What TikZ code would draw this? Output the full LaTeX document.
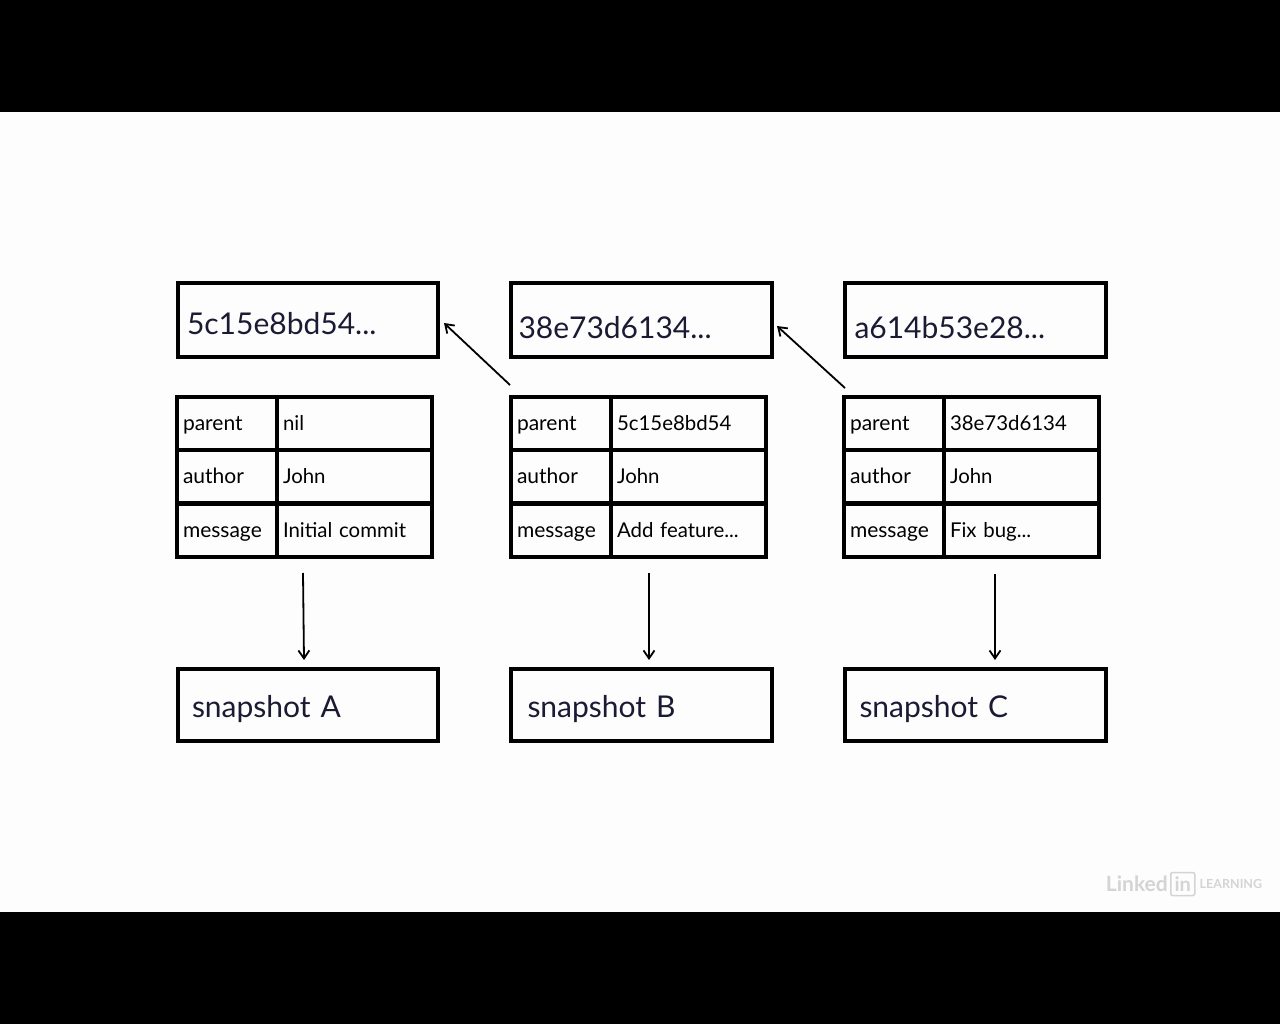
\documentclass[tikz,border=0pt]{standalone}
\usepackage{fontspec}
\setmainfont{Lato}
\usetikzlibrary{arrows.meta,positioning}
\definecolor{inkblue}{HTML}{1A1A33}
\definecolor{logogray}{HTML}{D4D4D4}
\definecolor{paper}{HTML}{FDFDFD}
\tikzset{
  bigbox/.style={draw=black,line width=4pt,anchor=north west,minimum width=260pt,minimum height=74pt,text width=#1,align=left,text=inkblue,font=\fontsize{30}{30}\selectfont,text height=31pt,text depth=2pt,inner ysep=0pt},
  snapbox/.style={bigbox=#1,minimum height=72pt,text height=26pt},
  keycell/.style={draw=black,line width=4pt,anchor=north west,minimum width=100pt,minimum height=53.2pt,inner xsep=6pt,inner ysep=0pt,text width=88pt,align=left,text=black,font=\fontsize{21}{21}\selectfont,text height=17pt,text depth=3pt},
  valcell/.style={keycell,minimum width=155pt,text width=143pt,font=\fontsize{20.4}{21}\selectfont},
  link/.style={->,line width=1.8pt},
}
\begin{document}
\begin{tikzpicture}[x=1pt,y=-1pt,>={Straight Barb[length=8pt,width=11pt]}]
\useasboundingbox (0,0) rectangle (1280,1024);
\fill[paper] (0,0) rectangle (1280,1024);
\fill[black] (0,0) rectangle (1280,112);
\fill[black] (0,912) rectangle (1280,1024);
% hashes
\node[bigbox=242pt,inner xsep=9pt] (hashA) at (176,281){5c15e8bd54...};
\node[bigbox=246pt,inner xsep=7pt,minimum width=261pt,text height=39pt] (hashB) at (509,281){38e73d6134...};
\node[bigbox=242pt,inner xsep=9pt,minimum width=261pt,text height=39pt] (hashC) at (843,281){a614b53e28...};
% commit tables
\foreach \col/\colx/\parentid/\msg in {A/175/nil/Initial commit,B/509/5c15e8bd54/{Add feature...},C/842/38e73d6134/{Fix bug...}}{
  \node[keycell] (key\col1) at (\colx,395){parent};
  \node[keycell] (key\col2) at (\colx,448.2){author};
  \node[keycell] (key\col3) at (\colx,501.6){message};
  \node[valcell] (val\col1) at (\colx+100,395){\parentid};
  \node[valcell] (val\col2) at (\colx+100,448.2){John};
  \node[valcell] (val\col3) at (\colx+100,501.6){\msg};
}
% snapshots
\node[snapbox=232pt,inner xsep=14pt] (snapA) at (176,667){snapshot A};
\node[snapbox=228pt,inner xsep=16pt,minimum width=261pt] (snapB) at (509,667){snapshot B};
\node[snapbox=232pt,inner xsep=14pt,minimum width=261pt] (snapC) at (843,667){snapshot C};
% arrows
\coordinate (tailB) at (510,385);\coordinate (headA) at (444,323);
\coordinate (tailC) at (845,388);\coordinate (headB) at (777,326);
\draw[link] (tailB)--(headA);
\draw[link] (tailC)--(headB);
\coordinate (downA) at (303,573);\coordinate (topA) at (304,660);
\coordinate (downB) at (649,573);\coordinate (topB) at (649,660);
\coordinate (downC) at (995,574);\coordinate (topC) at (995,660);
\draw[link] (downA)--(topA);
\draw[link] (downB)--(topB);
\draw[link] (downC)--(topC);
% logo
\node[text=logogray,font=\bfseries\fontsize{21}{21}\selectfont,anchor=east,inner sep=0pt] (logoname) at (1168,884){Linked};
\node[draw=logogray,line width=1.5pt,rounded corners=2pt,text=logogray,font=\bfseries\fontsize{20}{20}\selectfont,inner xsep=2pt,inner ysep=1pt,minimum width=24pt,minimum height=23pt,right=2pt of logoname] (logoin){in};
\node[text=logogray,font=\bfseries\fontsize{12.5}{12.5}\selectfont,inner sep=0pt,right=4pt of logoin] (logotag){LEARNING};
\end{tikzpicture}
\end{document}
